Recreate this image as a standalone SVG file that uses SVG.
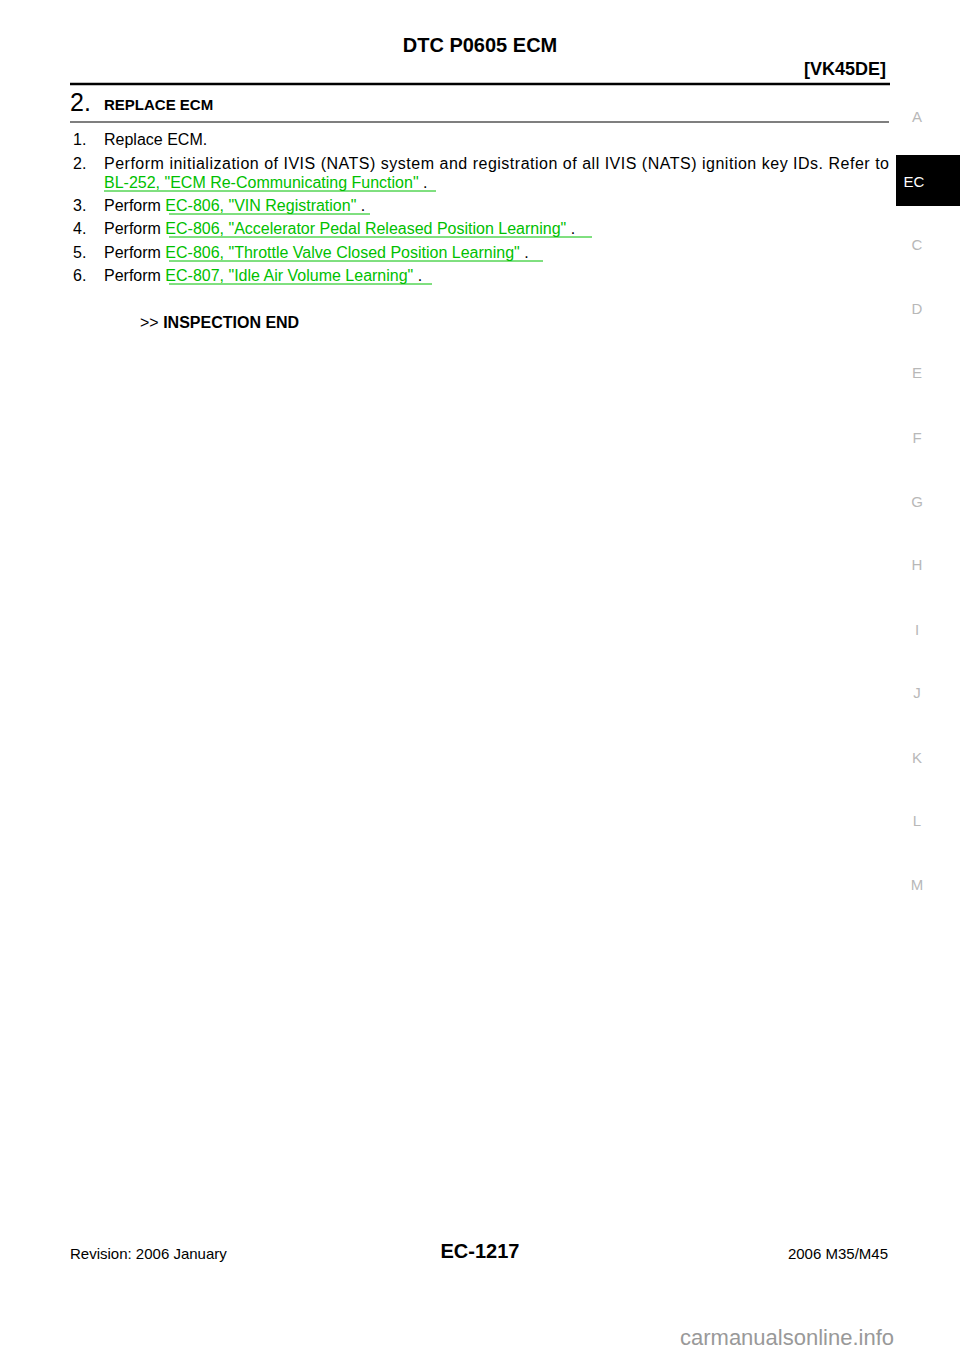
<svg xmlns="http://www.w3.org/2000/svg" width="960" height="1358" viewBox="0 0 960 1358">
<style>
text{font-family:"Liberation Sans",Arial,sans-serif;fill:#000}
.b{font-size:16px}
.lk{fill:#00c000}
.tab{font-size:15px;fill:#b8b8b8;text-anchor:middle}
.ul{stroke:#00c000;stroke-width:1}
</style>
<rect width="960" height="1358" fill="#fff"/>
<text x="480" y="52" font-size="20" font-weight="bold" text-anchor="middle">DTC P0605 ECM</text>
<text x="886" y="75" font-size="18" font-weight="bold" text-anchor="end">[VK45DE]</text>
<line x1="70" y1="84" x2="890" y2="84" stroke="#000" stroke-width="2.5"/>
<text x="70" y="111" font-size="25">2.</text>
<text x="104" y="110" font-size="15" font-weight="bold">REPLACE ECM</text>
<line x1="70" y1="122" x2="889" y2="122" stroke="#000" stroke-width="1.2"/>
<g class="b">
<text x="73" y="145" class="b">1.</text><text x="104" y="145" class="b">Replace ECM.</text>
<text x="73" y="169" class="b">2.</text><text x="104" y="169" class="b" textLength="785" lengthAdjust="spacing">Perform initialization of IVIS (NATS) system and registration of all IVIS (NATS) ignition key IDs. Refer to</text>
<text x="104" y="188" class="b"><tspan class="lk">BL-252, "ECM Re-Communicating Function"</tspan> .</text>
<line x1="104" y1="191" x2="436" y2="191" class="ul"/>
<text x="73" y="211" class="b">3.</text><text x="104" y="211" class="b">Perform <tspan class="lk">EC-806, "VIN Registration"</tspan> .</text>
<line x1="169" y1="214" x2="370" y2="214" class="ul"/>
<text x="73" y="234" class="b">4.</text><text x="104" y="234" class="b">Perform <tspan class="lk">EC-806, "Accelerator Pedal Released Position Learning"</tspan> .</text>
<line x1="169" y1="237" x2="592" y2="237" class="ul"/>
<text x="73" y="258" class="b">5.</text><text x="104" y="258" class="b">Perform <tspan class="lk">EC-806, "Throttle Valve Closed Position Learning"</tspan> .</text>
<line x1="169" y1="261" x2="543" y2="261" class="ul"/>
<text x="73" y="281" class="b">6.</text><text x="104" y="281" class="b">Perform <tspan class="lk">EC-807, "Idle Air Volume Learning"</tspan> .</text>
<line x1="169" y1="284" x2="432" y2="284" class="ul"/>
<text x="140" y="328" class="b">&gt;&gt; <tspan font-weight="bold">INSPECTION END</tspan></text>
</g>
<text x="917" y="122" class="tab">A</text>
<rect x="896" y="155" width="64" height="51" fill="#000"/>
<text x="914" y="187" font-size="15" fill="#fff" style="fill:#fff" text-anchor="middle">EC</text>
<text x="917" y="250" class="tab">C</text>
<text x="917" y="314" class="tab">D</text>
<text x="917" y="378" class="tab">E</text>
<text x="917" y="443" class="tab">F</text>
<text x="917" y="507" class="tab">G</text>
<text x="917" y="570" class="tab">H</text>
<text x="917" y="635" class="tab">I</text>
<text x="917" y="698" class="tab">J</text>
<text x="917" y="763" class="tab">K</text>
<text x="917" y="826" class="tab">L</text>
<text x="917" y="890" class="tab">M</text>
<text x="70" y="1259" font-size="15">Revision: 2006 January</text>
<text x="480" y="1258" font-size="20" font-weight="bold" text-anchor="middle">EC-1217</text>
<text x="888" y="1259" font-size="15" text-anchor="end">2006 M35/M45</text>
<text x="680" y="1345" font-size="22" style="fill:#999">carmanualsonline.info</text>
</svg>
